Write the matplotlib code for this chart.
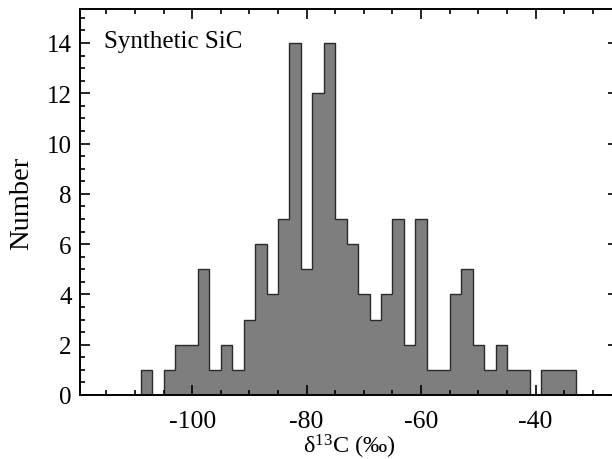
import matplotlib.pyplot as plt
import numpy as np
from matplotlib.ticker import MultipleLocator

# bin edges (2 permil wide) and counts
edges = np.arange(-109, -32, 2)
counts = [1, 0, 1, 2, 2, 5, 1, 2, 1, 3,
          6, 4, 7, 14, 5, 12, 14, 7, 6, 4,
          3, 4, 7, 2, 7, 1, 1, 4, 5, 2,
          1, 2, 1, 1, 0, 1, 1, 1]
label = "Synthetic SiC"

plt.rcParams['font.family'] = ['Liberation Serif', 'DejaVu Serif']

fig = plt.figure(figsize=(6.12, 4.6), dpi=100)
ax = fig.add_axes([80/612, 64/460, 538/612, 386/460])

ax.stairs(counts, edges, fill=True, color='#7e7e7e', baseline=0)
ax.stairs(counts, edges, fill=False, color='#2a2a2a', lw=1.0, baseline=0)

ax.set_xlim(-119.6, -25.6)
ax.set_ylim(0, 15.35)

ax.xaxis.set_major_locator(MultipleLocator(20))
ax.xaxis.set_minor_locator(MultipleLocator(5))
ax.yaxis.set_major_locator(MultipleLocator(2))
ax.yaxis.set_minor_locator(MultipleLocator(0.5))
ax.tick_params(which='both', direction='in', top=True, right=True, width=1.2)
ax.tick_params(axis='x', labelsize=18.5, pad=11)
ax.tick_params(axis='y', labelsize=18, pad=6)
ax.tick_params(which='major', length=7)
ax.tick_params(which='minor', length=3.5)
for s in ax.spines.values():
    s.set_linewidth(1.4)

ax.set_xticks([-100, -80, -60, -40])
ax.set_xticklabels(['-100', '-80', '-60', '-40'])

ax.set_xlabel(r'$\mathregular{\delta^{13}}$C (‰)', fontsize=17.5, labelpad=0)
ax.set_ylabel('Number', fontsize=20.5, labelpad=9)
ax.text(0.045, 0.945, label, transform=ax.transAxes, fontsize=18, va='top', ha='left')

fig.savefig('out.png', dpi=100)
